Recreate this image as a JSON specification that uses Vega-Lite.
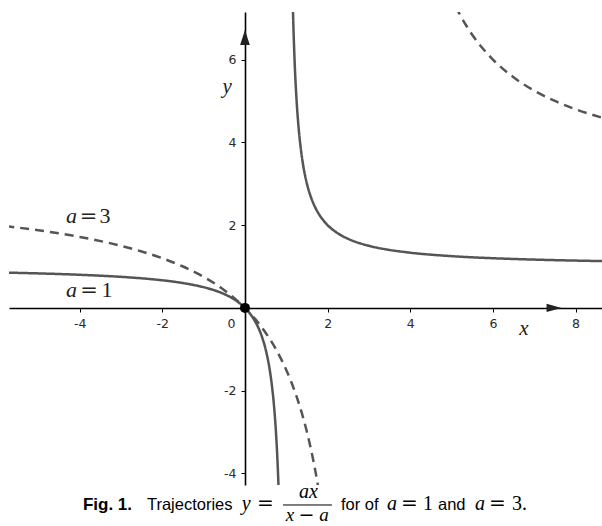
{
  "$schema": "https://vega.github.io/schema/vega-lite/v6.json",
  "width": 593,
  "height": 473,
  "autosize": {"type": "none"},
  "padding": {"left": 9, "top": 12, "right": 0, "bottom": 41},
  "config": {"view": {"stroke": null}},
  "data": {"values": [{}]},
  "datasets": {
    "curves": [
      {"a": "a=1", "seg": "1L", "x": -5.8, "y": 0.8529},
      {"a": "a=1", "seg": "1L", "x": -5, "y": 0.8333},
      {"a": "a=1", "seg": "1L", "x": -4, "y": 0.8},
      {"a": "a=1", "seg": "1L", "x": -3, "y": 0.75},
      {"a": "a=1", "seg": "1L", "x": -2.5, "y": 0.7143},
      {"a": "a=1", "seg": "1L", "x": -2, "y": 0.6667},
      {"a": "a=1", "seg": "1L", "x": -1.5, "y": 0.6},
      {"a": "a=1", "seg": "1L", "x": -1, "y": 0.5},
      {"a": "a=1", "seg": "1L", "x": -0.75, "y": 0.4286},
      {"a": "a=1", "seg": "1L", "x": -0.5, "y": 0.3333},
      {"a": "a=1", "seg": "1L", "x": -0.25, "y": 0.2},
      {"a": "a=1", "seg": "1L", "x": 0, "y": 0},
      {"a": "a=1", "seg": "1L", "x": 0.1, "y": -0.1111},
      {"a": "a=1", "seg": "1L", "x": 0.2, "y": -0.25},
      {"a": "a=1", "seg": "1L", "x": 0.3, "y": -0.4286},
      {"a": "a=1", "seg": "1L", "x": 0.4, "y": -0.6667},
      {"a": "a=1", "seg": "1L", "x": 0.5, "y": -1},
      {"a": "a=1", "seg": "1L", "x": 0.6, "y": -1.5},
      {"a": "a=1", "seg": "1L", "x": 0.65, "y": -1.857},
      {"a": "a=1", "seg": "1L", "x": 0.7, "y": -2.333},
      {"a": "a=1", "seg": "1L", "x": 0.75, "y": -3},
      {"a": "a=1", "seg": "1L", "x": 0.78, "y": -3.545},
      {"a": "a=1", "seg": "1L", "x": 0.8, "y": -4},
      {"a": "a=1", "seg": "1L", "x": 0.82, "y": -4.556},
      {"a": "a=1", "seg": "1L", "x": 0.85, "y": -5.667},
      {"a": "a=1", "seg": "1R", "x": 1.14, "y": 8.143},
      {"a": "a=1", "seg": "1R", "x": 1.16, "y": 7.25},
      {"a": "a=1", "seg": "1R", "x": 1.2, "y": 6},
      {"a": "a=1", "seg": "1R", "x": 1.25, "y": 5},
      {"a": "a=1", "seg": "1R", "x": 1.3, "y": 4.333},
      {"a": "a=1", "seg": "1R", "x": 1.35, "y": 3.857},
      {"a": "a=1", "seg": "1R", "x": 1.4, "y": 3.5},
      {"a": "a=1", "seg": "1R", "x": 1.5, "y": 3},
      {"a": "a=1", "seg": "1R", "x": 1.6, "y": 2.667},
      {"a": "a=1", "seg": "1R", "x": 1.7, "y": 2.4286},
      {"a": "a=1", "seg": "1R", "x": 1.8, "y": 2.25},
      {"a": "a=1", "seg": "1R", "x": 2, "y": 2},
      {"a": "a=1", "seg": "1R", "x": 2.25, "y": 1.8},
      {"a": "a=1", "seg": "1R", "x": 2.5, "y": 1.6667},
      {"a": "a=1", "seg": "1R", "x": 3, "y": 1.5},
      {"a": "a=1", "seg": "1R", "x": 3.5, "y": 1.4},
      {"a": "a=1", "seg": "1R", "x": 4, "y": 1.3333},
      {"a": "a=1", "seg": "1R", "x": 5, "y": 1.25},
      {"a": "a=1", "seg": "1R", "x": 6, "y": 1.2},
      {"a": "a=1", "seg": "1R", "x": 7, "y": 1.1667},
      {"a": "a=1", "seg": "1R", "x": 8, "y": 1.1429},
      {"a": "a=1", "seg": "1R", "x": 8.7, "y": 1.1299},
      {"a": "a=3", "seg": "3L", "x": -5.8, "y": 1.977},
      {"a": "a=3", "seg": "3L", "x": -5, "y": 1.875},
      {"a": "a=3", "seg": "3L", "x": -4, "y": 1.7143},
      {"a": "a=3", "seg": "3L", "x": -3, "y": 1.5},
      {"a": "a=3", "seg": "3L", "x": -2.5, "y": 1.3636},
      {"a": "a=3", "seg": "3L", "x": -2, "y": 1.2},
      {"a": "a=3", "seg": "3L", "x": -1.5, "y": 1},
      {"a": "a=3", "seg": "3L", "x": -1, "y": 0.75},
      {"a": "a=3", "seg": "3L", "x": -0.5, "y": 0.4286},
      {"a": "a=3", "seg": "3L", "x": -0.25, "y": 0.2308},
      {"a": "a=3", "seg": "3L", "x": 0, "y": 0},
      {"a": "a=3", "seg": "3L", "x": 0.25, "y": -0.2727},
      {"a": "a=3", "seg": "3L", "x": 0.5, "y": -0.6},
      {"a": "a=3", "seg": "3L", "x": 0.75, "y": -1},
      {"a": "a=3", "seg": "3L", "x": 1, "y": -1.5},
      {"a": "a=3", "seg": "3L", "x": 1.1, "y": -1.7368},
      {"a": "a=3", "seg": "3L", "x": 1.25, "y": -2.1429},
      {"a": "a=3", "seg": "3L", "x": 1.4, "y": -2.625},
      {"a": "a=3", "seg": "3L", "x": 1.5, "y": -3},
      {"a": "a=3", "seg": "3L", "x": 1.6, "y": -3.4286},
      {"a": "a=3", "seg": "3L", "x": 1.7, "y": -3.923},
      {"a": "a=3", "seg": "3L", "x": 1.75, "y": -4.2},
      {"a": "a=3", "seg": "3L", "x": 1.8, "y": -4.5},
      {"a": "a=3", "seg": "3R", "x": 5.1, "y": 7.2857},
      {"a": "a=3", "seg": "3R", "x": 5.2, "y": 7.0909},
      {"a": "a=3", "seg": "3R", "x": 5.35, "y": 6.8298},
      {"a": "a=3", "seg": "3R", "x": 5.5, "y": 6.6},
      {"a": "a=3", "seg": "3R", "x": 5.75, "y": 6.2727},
      {"a": "a=3", "seg": "3R", "x": 6, "y": 6},
      {"a": "a=3", "seg": "3R", "x": 6.5, "y": 5.5714},
      {"a": "a=3", "seg": "3R", "x": 7, "y": 5.25},
      {"a": "a=3", "seg": "3R", "x": 7.5, "y": 5},
      {"a": "a=3", "seg": "3R", "x": 8, "y": 4.8},
      {"a": "a=3", "seg": "3R", "x": 8.7, "y": 4.5789}
    ]
  },
  "layer": [
    {
      "data": {"name": "curves"},
      "mark": {"type": "line", "clip": true, "interpolate": "monotone", "strokeWidth": 2.5, "color": "#555555"},
      "encoding": {
        "x": {"field": "x", "type": "quantitative", "scale": {"domain": [-5.71, 8.64], "nice": false, "zero": false},
          "axis": {"orient": "bottom", "offset": -177, "title": null, "values": [-4, -2, 0, 2, 4, 6, 8],
            "labelExpr": "toString(datum.value)", "domainColor": "#000000", "domainWidth": 1.6,
            "tickColor": "#000000", "tickSize": 4, "tickOpacity": {"condition": {"test": "datum.value == 0", "value": 0}, "value": 1},
            "labelOffset": {"condition": {"test": "datum.value == 0", "value": -14}, "value": 0},
            "labelFont": "DejaVu Sans", "labelFontSize": 12.5, "labelColor": "#2a2a2a", "labelPadding": 5, "grid": false}},
        "y": {"field": "y", "type": "quantitative", "scale": {"domain": [-4.28, 7.15], "nice": false, "zero": false},
          "axis": {"orient": "left", "offset": -236, "title": null, "values": [-4, -2, 2, 4, 6],
            "labelExpr": "toString(datum.value)", "domainColor": "#000000", "domainWidth": 1.6,
            "tickColor": "#000000", "tickSize": 4,
            "labelFont": "DejaVu Sans", "labelFontSize": 12.5, "labelColor": "#2a2a2a", "labelPadding": 5, "grid": false}},
        "detail": {"field": "seg"},
        "strokeDash": {"field": "a", "type": "nominal", "scale": {"domain": ["a=1", "a=3"], "range": [[1, 0], [9, 6]]}, "legend": null}
      }
    },
    {
      "mark": {"type": "point", "shape": "M -1 -0.55 L 1 0 L -1 0.55 Z", "filled": true, "color": "#222222", "opacity": 1, "size": 225},
      "encoding": {"x": {"datum": 7.48}, "y": {"datum": 0}}
    },
    {
      "mark": {"type": "point", "shape": "M -0.65 1 L 0 -1 L 0.65 1 Z", "filled": true, "color": "#222222", "opacity": 1, "size": 225},
      "encoding": {"x": {"datum": 0}, "y": {"datum": 6.535}}
    },
    {
      "mark": {"type": "circle", "color": "#000000", "opacity": 1, "size": 100},
      "encoding": {"x": {"datum": 0}, "y": {"datum": 0}}
    },
    {
      "mark": {"type": "text", "font": "Liberation Serif", "fontStyle": "italic", "fontSize": 22, "align": "center", "baseline": "alphabetic", "color": "#222222"},
      "encoding": {"x": {"datum": -4.199}, "y": {"datum": 2.052}, "text": {"value": "a"}}
    },
    {
      "mark": {"type": "text", "font": "DejaVu Serif", "fontSize": 21, "align": "center", "baseline": "alphabetic", "color": "#222222"},
      "encoding": {"x": {"datum": -3.788}, "y": {"datum": 2.052}, "text": {"value": "="}}
    },
    {
      "mark": {"type": "text", "font": "Liberation Serif", "fontSize": 22, "align": "center", "baseline": "alphabetic", "color": "#222222"},
      "encoding": {"x": {"datum": -3.388}, "y": {"datum": 2.052}, "text": {"value": "3"}}
    },
    {
      "mark": {"type": "text", "font": "Liberation Serif", "fontStyle": "italic", "fontSize": 22, "align": "center", "baseline": "alphabetic", "color": "#222222"},
      "encoding": {"x": {"datum": -4.199}, "y": {"datum": 0.263}, "text": {"value": "a"}}
    },
    {
      "mark": {"type": "text", "font": "DejaVu Serif", "fontSize": 21, "align": "center", "baseline": "alphabetic", "color": "#222222"},
      "encoding": {"x": {"datum": -3.77}, "y": {"datum": 0.263}, "text": {"value": "="}}
    },
    {
      "mark": {"type": "text", "font": "Liberation Serif", "fontSize": 22, "align": "center", "baseline": "alphabetic", "color": "#222222"},
      "encoding": {"x": {"datum": -3.34}, "y": {"datum": 0.263}, "text": {"value": "1"}}
    },
    {
      "mark": {"type": "text", "font": "Liberation Serif", "fontStyle": "italic", "fontSize": 21, "align": "center", "baseline": "middle", "color": "#222222"},
      "encoding": {"x": {"datum": 6.75}, "y": {"datum": -0.51}, "text": {"value": "x"}}
    },
    {
      "mark": {"type": "text", "font": "Liberation Serif", "fontStyle": "italic", "fontSize": 21, "align": "center", "baseline": "middle", "color": "#222222"},
      "encoding": {"x": {"datum": -0.43}, "y": {"datum": 5.34}, "text": {"value": "y"}}
    },
    {
      "mark": {"type": "text", "font": "Liberation Sans", "fontWeight": "bold", "fontSize": 17, "align": "left", "baseline": "alphabetic", "color": "#000000"},
      "encoding": {"x": {"datum": -3.921}, "y": {"datum": -4.884}, "text": {"value": "Fig. 1."}}
    },
    {
      "mark": {"type": "text", "font": "Liberation Sans", "fontSize": 16.5, "align": "left", "baseline": "alphabetic", "color": "#000000"},
      "encoding": {"x": {"datum": -2.372}, "y": {"datum": -4.884}, "text": {"value": "Trajectories"}}
    },
    {
      "mark": {"type": "text", "font": "Liberation Serif", "fontStyle": "italic", "fontSize": 20, "align": "center", "baseline": "alphabetic", "color": "#000000"},
      "encoding": {"x": {"datum": 0.03}, "y": {"datum": -4.884}, "text": {"value": "y"}}
    },
    {
      "mark": {"type": "text", "font": "DejaVu Serif", "fontSize": 20, "align": "center", "baseline": "alphabetic", "color": "#000000"},
      "encoding": {"x": {"datum": 0.496}, "y": {"datum": -4.884}, "text": {"value": "="}}
    },
    {
      "mark": {"type": "text", "font": "Liberation Serif", "fontStyle": "italic", "fontSize": 20, "align": "center", "baseline": "alphabetic", "color": "#000000"},
      "encoding": {"x": {"datum": 1.537}, "y": {"datum": -4.594}, "text": {"value": "ax"}}
    },
    {
      "mark": {"type": "rule", "color": "#000000", "strokeWidth": 1, "clip": false},
      "encoding": {"x": {"datum": 0.92}, "x2": {"datum": 2.105}, "y": {"datum": -4.763}}
    },
    {
      "mark": {"type": "text", "font": "Liberation Serif", "fontStyle": "italic", "fontSize": 19, "align": "center", "baseline": "alphabetic", "color": "#000000"},
      "encoding": {"x": {"datum": 1.089}, "y": {"datum": -5.15}, "text": {"value": "x"}}
    },
    {
      "mark": {"type": "text", "font": "DejaVu Serif", "fontSize": 19, "align": "center", "baseline": "alphabetic", "color": "#000000"},
      "encoding": {"x": {"datum": 1.488}, "y": {"datum": -5.15}, "text": {"value": "−"}}
    },
    {
      "mark": {"type": "text", "font": "Liberation Serif", "fontStyle": "italic", "fontSize": 19, "align": "center", "baseline": "alphabetic", "color": "#000000"},
      "encoding": {"x": {"datum": 1.912}, "y": {"datum": -5.15}, "text": {"value": "a"}}
    },
    {
      "mark": {"type": "text", "font": "Liberation Sans", "fontSize": 16.5, "align": "left", "baseline": "alphabetic", "color": "#000000"},
      "encoding": {"x": {"datum": 2.323}, "y": {"datum": -4.884}, "text": {"value": "for of"}}
    },
    {
      "mark": {"type": "text", "font": "Liberation Serif", "fontStyle": "italic", "fontSize": 20, "align": "center", "baseline": "alphabetic", "color": "#000000"},
      "encoding": {"x": {"datum": 3.558}, "y": {"datum": -4.884}, "text": {"value": "a"}}
    },
    {
      "mark": {"type": "text", "font": "DejaVu Serif", "fontSize": 20, "align": "center", "baseline": "alphabetic", "color": "#000000"},
      "encoding": {"x": {"datum": 3.981}, "y": {"datum": -4.884}, "text": {"value": "="}}
    },
    {
      "mark": {"type": "text", "font": "Liberation Serif", "fontSize": 20, "align": "center", "baseline": "alphabetic", "color": "#000000"},
      "encoding": {"x": {"datum": 4.429}, "y": {"datum": -4.884}, "text": {"value": "1"}}
    },
    {
      "mark": {"type": "text", "font": "Liberation Sans", "fontSize": 16.5, "align": "left", "baseline": "alphabetic", "color": "#000000"},
      "encoding": {"x": {"datum": 4.671}, "y": {"datum": -4.884}, "text": {"value": "and"}}
    },
    {
      "mark": {"type": "text", "font": "Liberation Serif", "fontStyle": "italic", "fontSize": 20, "align": "center", "baseline": "alphabetic", "color": "#000000"},
      "encoding": {"x": {"datum": 5.687}, "y": {"datum": -4.884}, "text": {"value": "a"}}
    },
    {
      "mark": {"type": "text", "font": "DejaVu Serif", "fontSize": 20, "align": "center", "baseline": "alphabetic", "color": "#000000"},
      "encoding": {"x": {"datum": 6.111}, "y": {"datum": -4.884}, "text": {"value": "="}}
    },
    {
      "mark": {"type": "text", "font": "Liberation Serif", "fontSize": 20, "align": "left", "baseline": "alphabetic", "color": "#000000"},
      "encoding": {"x": {"datum": 6.462}, "y": {"datum": -4.884}, "text": {"value": "3."}}
    }
  ]
}
